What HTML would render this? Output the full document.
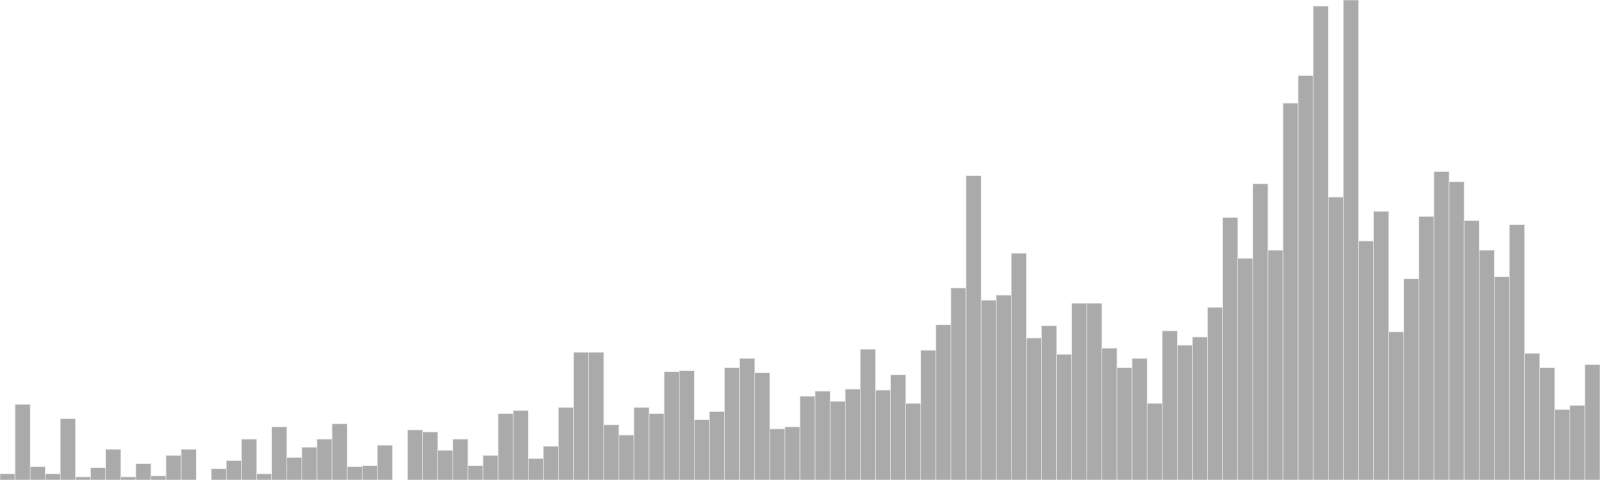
<!DOCTYPE html>
<html><head><meta charset="utf-8"><style>html,body{margin:0;padding:0;background:#fff}svg{display:block}</style></head>
<body>
<svg id="chart" width="1600" height="480" xmlns="http://www.w3.org/2000/svg"></svg>
<script>
const categories = Array.from({length:106},(_, i)=>'bin-'+i);
const values = [6,74,13,6,60,3,12,30,3,16,4,24,30,0,11,19,40,6,52,22,32,40,55,13,14,34,0,49,47,29,40,14,24,65,68,21,33,71,125,125,54,44,71,65,106,107,59,67,110,119,105,50,52,82,87,77,89,128,88,103,75,127,152,188,298,176,181,222,139,151,123,173,173,129,110,119,75,146,132,140,169,257,217,290,225,369,396,464,277,470,234,263,145,197,258,302,292,254,225,199,250,124,110,69,73,113];
const yMax = 470;
const W=1600,H=480;
const svg=document.getElementById('chart');
const bw=W/values.length;
const x=i=>i*bw;
const y=v=>H - v/yMax*H;
values.forEach((v,i)=>{
  if(v<=0) return;
  const r=document.createElementNS('http://www.w3.org/2000/svg','rect');
  r.setAttribute('x',x(i));
  r.setAttribute('y',y(v));
  r.setAttribute('width',bw);
  r.setAttribute('height',H-y(v));
  r.setAttribute('fill','#aaaaaa');
  r.setAttribute('stroke','#e6e6e6');
  r.setAttribute('stroke-width','0.6');
  
  
  svg.appendChild(r);
});
</script>
</body></html>
